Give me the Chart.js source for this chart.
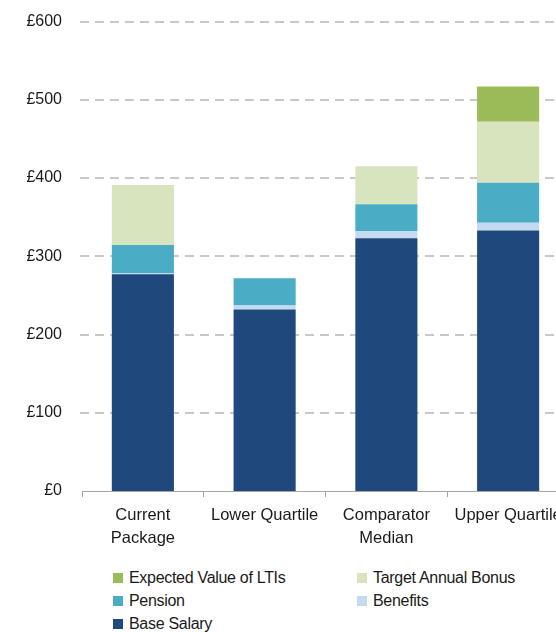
<!DOCTYPE html>
<html>
<head>
<meta charset="utf-8">
<script src="https://cdn.jsdelivr.net/npm/chart.js@4/dist/chart.umd.min.js"></script>
<style>
    html, body { margin: 0; padding: 0; background: #fff; overflow: hidden; }
    body { width: 556px; height: 632px; position: relative; font-family: "Liberation Sans", Arial, sans-serif; }
    #wrap { position: absolute; left: 0; top: -8px; width: 610px; height: 570px; }
    #legend {
        position: absolute; left: 113px; top: 566px;
        display: grid; grid-template-columns: 244px 200px; row-gap: 0;
        font-size: 16px; color: #1a1a1a; letter-spacing: -0.3px;
    }
    #legend .item { display: flex; align-items: center; height: 23px; }
    #legend .box { width: 10px; height: 10px; margin-right: 6px; }
</style>
</head>
<body>
<div id="wrap"><canvas id="payChart"></canvas></div>
<div id="legend"></div>
<script>
// Categories and series (GBP, thousands)
const categories = [['Current', 'Package'], 'Lower Quartile', ['Comparator', 'Median'], 'Upper Quartile'];
const baseSalary = [277, 232, 323, 333];
const benefits = [1.5, 5, 9, 10];
const pension = [36, 35, 34.5, 51];
const targetBonus = [76.5, 0, 48.5, 78];
const ltiValue = [0, 0, 0, 45];
const yTicks = [0, 100, 200, 300, 400, 500, 600];

const seriesNames = ['Base Salary', 'Benefits', 'Pension', 'Target Annual Bonus', 'Expected Value of LTIs'];
const seriesColors = ['#1f497c', '#c5d9f1', '#4bacc6', '#d7e4bd', '#9bbb59'];
const seriesData = [baseSalary, benefits, pension, targetBonus, ltiValue];

// dashed horizontal grid lines, drawn under the bars
const dashedGrid = {
    id: 'dashedGrid',
    beforeDatasetsDraw(chart) {
        const ctx = chart.ctx;
        const y = chart.scales.y;
        const area = chart.chartArea;
        ctx.save();
        ctx.strokeStyle = '#c8c8c8';
        ctx.lineWidth = 2;
        ctx.setLineDash([9, 6]);
        yTicks.forEach(v => {
            if (v === 0) return;
            const py = Math.round(y.getPixelForValue(v));
            ctx.beginPath();
            ctx.moveTo(area.left - 2, py);
            ctx.lineTo(chart.width, py);
            ctx.stroke();
        });
        ctx.restore();
    }
};

const ctx = document.getElementById('payChart');
const chart = new Chart(ctx, {
    type: 'bar',
    data: {
        labels: categories,
        datasets: seriesNames.map((name, i) => ({
            label: name,
            data: seriesData[i],
            backgroundColor: seriesColors[i],
            borderWidth: 0,
            barPercentage: 0.51,
            categoryPercentage: 1
        }))
    },
    options: {
        responsive: true,
        maintainAspectRatio: false,
        animation: false,
        layout: { padding: { top: 4, right: 41, left: 0, bottom: 0 } },
        plugins: {
            legend: { display: false },
            tooltip: { enabled: false }
        },
        scales: {
            x: {
                stacked: true,
                grid: {
                    offset: true,
                    drawOnChartArea: false,
                    drawTicks: true,
                    tickLength: 6,
                    color: '#a6a6a6'
                },
                border: { display: true, color: '#a6a6a6', width: 1 },
                ticks: {
                    color: '#1a1a1a',
                    padding: 7,
                    maxRotation: 0,
                    autoSkip: false,
                    font: { family: 'Liberation Sans', size: 16.5, lineHeight: 1.4 }
                },
                afterFit(scale) { scale.height = 71; }
            },
            y: {
                stacked: true,
                min: 0,
                max: 600,
                afterBuildTicks(scale) { scale.ticks = yTicks.map(v => ({ value: v })); },
                grid: { display: false, drawTicks: false },
                border: { display: false },
                ticks: {
                    color: '#1a1a1a',
                    padding: 20,
                    font: { family: 'Liberation Sans', size: 16 },
                    callback: v => '£' + v
                },
                afterFit(scale) { scale.width = 82; }
            }
        }
    },
    plugins: [dashedGrid]
});

// legend in two columns, top series first
const legendEl = document.getElementById('legend');
chart.data.datasets.slice().reverse().forEach(ds => {
    const item = document.createElement('div');
    item.className = 'item';
    item.innerHTML = '<span class="box" style="background:' + ds.backgroundColor + '"></span><span>' + ds.label + '</span>';
    legendEl.appendChild(item);
});
</script>
</body>
</html>
